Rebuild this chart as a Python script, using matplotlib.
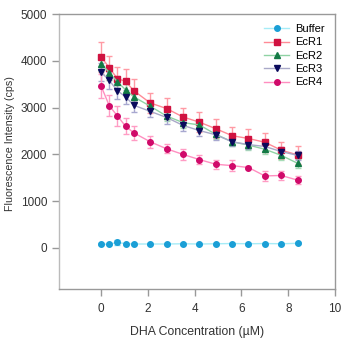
import numpy as np
import matplotlib
matplotlib.use("Agg")
from matplotlib import pyplot as plt

plt.rcParams['font.family'] = ['Liberation Sans', 'DejaVu Sans']

# DHA concentration (uM)
dha = [0, 0.35, 0.7, 1.05, 1.4, 2.1, 2.8, 3.5, 4.2, 4.9, 5.6, 6.3, 7.0, 7.7, 8.4]

buffer_y = [80, 80, 120, 90, 85, 85, 85, 90, 85, 90, 95, 90, 95, 90, 100]
buffer_err = [20, 20, 50, 20, 20, 20, 20, 20, 20, 20, 20, 20, 20, 20, 20]

ecr1_y = [4090, 3850, 3620, 3560, 3360, 3100, 2980, 2800, 2690, 2550, 2400, 2340, 2260, 2090, 1990]
ecr1_err = [320, 260, 250, 270, 250, 220, 230, 200, 210, 200, 190, 200, 200, 180, 190]

ecr2_y = [3940, 3750, 3550, 3380, 3230, 3030, 2820, 2680, 2630, 2430, 2270, 2200, 2110, 1980, 1810]
ecr2_err = [150, 150, 130, 120, 120, 110, 110, 110, 110, 100, 100, 100, 100, 90, 90]

ecr3_y = [3760, 3580, 3360, 3230, 3050, 2920, 2790, 2620, 2510, 2420, 2270, 2210, 2170, 2060, 1980]
ecr3_err = [200, 190, 170, 150, 140, 130, 130, 120, 110, 110, 100, 100, 100, 90, 90]

ecr4_y = [3460, 3040, 2820, 2600, 2460, 2270, 2120, 2000, 1890, 1790, 1760, 1720, 1540, 1550, 1450]
ecr4_err = [260, 220, 220, 170, 150, 130, 100, 110, 100, 100, 110, 40, 100, 100, 90]

series = [
    ("Buffer", buffer_y, buffer_err, 'o', '#a6ecf7', '#1a9fd6', '#7fd8f0'),
    ("EcR1", ecr1_y, ecr1_err, 's', '#ff8a96', '#d01240', '#ff9aa4'),
    ("EcR2", ecr2_y, ecr2_err, '^', '#8fd3a4', '#137a45', '#a6dcb6'),
    ("EcR3", ecr3_y, ecr3_err, 'v', '#a9a9c8', '#0a0a5c', '#a8a8d0'),
    ("EcR4", ecr4_y, ecr4_err, 'o', '#ff8ec0', '#d00a6a', '#ff9cc4'),
]

fig = plt.figure(figsize=(3.44, 3.43), dpi=100)
ax = fig.add_axes([0.1715, 0.157, 0.8025, 0.802])

for name, y, err, mk, line_c, mk_c, err_c in series:
    ax.errorbar(dha, y, yerr=err, fmt='none', ecolor=err_c, elinewidth=1.0,
                capsize=2.5, capthick=1.0, zorder=2)
    ax.plot(dha, y, color=line_c, lw=1.0, marker=mk, markersize=4,
            markerfacecolor=mk_c, markeredgecolor=mk_c, label=name, zorder=3)

ax.set_xlim(-1.8, 10)
ax.set_ylim(-880, 5000)
ax.set_xticks([0, 2, 4, 6, 8, 10])
ax.set_yticks([0, 1000, 2000, 3000, 4000, 5000])

for s in ax.spines.values():
    s.set_color('#999999')
    s.set_linewidth(1.0)
ax.spines['left'].set_color('#bbbbbb')
ax.tick_params(colors='#999999', labelcolor='#333333', labelsize=8.5, length=5, width=1.0)
ax.tick_params(axis='x', pad=5)

ax.set_xlabel("DHA Concentration (\u00b5M)", fontsize=8.8, color='#333333')
ax.xaxis.set_label_coords(0.5, -0.135)
ax.set_ylabel("Fluorescence Intensity (cps)", fontsize=7.7, color='#333333')
ax.yaxis.set_label_coords(-0.16, 0.53)

leg = ax.legend(loc='upper right', frameon=False, fontsize=8, handlelength=2.2,
                labelspacing=0.3, handletextpad=0.6, borderaxespad=0.5)

fig.savefig("out.png", dpi=100)
